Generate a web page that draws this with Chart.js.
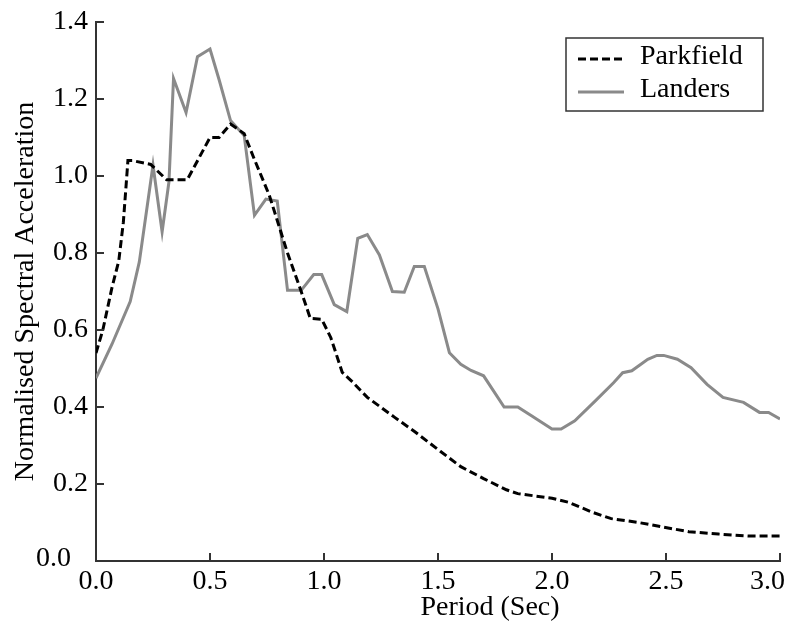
<!DOCTYPE html>
<html>
<head>
<meta charset="utf-8">
<script src="https://cdn.jsdelivr.net/npm/chart.js@4.4.1/dist/chart.umd.min.js"></script>
<style>
  html, body { margin: 0; padding: 0; background: #fff; }
  #wrap { width: 793px; height: 626px; }
</style>
</head>
<body>
<div id="wrap"><canvas id="spectraChart" width="793" height="626"></canvas></div>
<script>
// Period (s) and normalised spectral acceleration
const parkfieldPeriod = [0.00, 0.03, 0.07, 0.10, 0.12, 0.14, 0.16, 0.24, 0.31, 0.40, 0.50, 0.54, 0.59, 0.65, 0.69, 0.76,
    0.84, 0.90, 0.94, 0.99, 1.03, 1.08, 1.12, 1.19, 1.31, 1.40, 1.51, 1.60, 1.70, 1.80, 1.85, 2.00, 2.07, 2.18,
    2.26, 2.38, 2.48, 2.60, 2.73, 2.86, 3.00];
const parkfieldSA = [0.54, 0.60, 0.71, 0.78, 0.88, 1.04, 1.04, 1.03, 0.99, 0.99, 1.10, 1.10, 1.135, 1.11, 1.05, 0.95,
    0.80, 0.70, 0.63, 0.628, 0.58, 0.49, 0.468, 0.425, 0.373, 0.335, 0.285, 0.245, 0.214, 0.185, 0.175, 0.163, 0.153, 0.126,
    0.11, 0.10, 0.089, 0.076, 0.07, 0.065, 0.065];

const landersPeriod = [0.00, 0.07, 0.15, 0.19, 0.25, 0.29, 0.32, 0.34, 0.395, 0.445, 0.50, 0.54, 0.59, 0.65, 0.695,
    0.745, 0.795, 0.84, 0.90, 0.955, 0.99, 1.045, 1.10, 1.148, 1.19, 1.243, 1.30, 1.352, 1.396, 1.44, 1.50,
    1.55, 1.60, 1.645, 1.70, 1.79, 1.85, 1.91, 2.00, 2.04, 2.10, 2.19, 2.27, 2.31, 2.35, 2.42, 2.46, 2.49,
    2.55, 2.61, 2.68, 2.75, 2.84, 2.91, 2.95, 3.00];
const landersSA = [0.475, 0.563, 0.674, 0.777, 1.028, 0.855, 0.985, 1.253, 1.165, 1.31, 1.33, 1.25, 1.144, 1.105, 0.898,
    0.94, 0.935, 0.703, 0.703, 0.744, 0.744, 0.666, 0.648, 0.838, 0.848, 0.795, 0.70, 0.698, 0.765, 0.765, 0.655,
    0.541, 0.511, 0.495, 0.481, 0.40, 0.40, 0.377, 0.343, 0.343, 0.364, 0.416, 0.463, 0.489, 0.494, 0.524, 0.534, 0.534,
    0.524, 0.502, 0.459, 0.425, 0.412, 0.386, 0.386, 0.369];

const xTicks = [0.0, 0.5, 1.0, 1.5, 2.0, 2.5, 3.0];
const yTicks = [0.0, 0.2, 0.4, 0.6, 0.8, 1.0, 1.2, 1.4];

const FONT = '"Liberation Serif", "Times New Roman", serif';
const AXIS_COLOR = '#333';

function toPoints(xs, ys) {
    return xs.map((x, i) => ({ x: x, y: ys[i] }));
}

// inward tick marks, x labels, x title and the boxed legend
const axisDecor = {
    id: 'axisDecor',
    afterDraw(chart) {
        const { ctx, chartArea } = chart;
        const x = chart.scales.x, y = chart.scales.y;
        ctx.save();
        ctx.strokeStyle = AXIS_COLOR;
        ctx.lineWidth = 2;
        ctx.beginPath();
        x.ticks.forEach(t => {
            if (t.value === 0) return;
            const px = Math.round(x.getPixelForValue(t.value));
            ctx.moveTo(px, chartArea.bottom);
            ctx.lineTo(px, chartArea.bottom - 8);
        });
        y.ticks.forEach(t => {
            if (t.value === 0) return;
            const py = Math.round(y.getPixelForValue(t.value));
            ctx.moveTo(chartArea.left, py);
            ctx.lineTo(chartArea.left + 8, py);
        });
        ctx.stroke();

        ctx.fillStyle = '#000';
        ctx.font = '28px ' + FONT;
        ctx.textAlign = 'center';
        ctx.textBaseline = 'top';
        x.ticks.forEach(t => {
            const label = t.value.toFixed(1);
            const w = ctx.measureText(label).width;
            let px = x.getPixelForValue(t.value);
            px = Math.min(px, chart.width - 8 - w / 2);
            ctx.fillText(label, px, chartArea.bottom + 7);
        });

        // y "0.0" sits further left than the others
        ctx.textAlign = 'right';
        ctx.textBaseline = 'middle';
        ctx.fillText('0.0', chartArea.left - 25, y.getPixelForValue(0) - 2);

        ctx.textAlign = 'center';
        ctx.fillText('Period (Sec)', 490, chartArea.bottom + 47);

        // legend
        const boxR = chartArea.right - 17, boxT = chartArea.top + 16;
        const boxL = boxR - 197, boxH = 73;
        ctx.lineWidth = 1.5;
        ctx.strokeStyle = AXIS_COLOR;
        ctx.strokeRect(boxL, boxT, boxR - boxL, boxH);
        ctx.textAlign = 'left';
        chart.data.datasets.forEach((ds, i) => {
            const ly = boxT + 21 + i * 33;
            ctx.save();
            ctx.strokeStyle = ds.borderColor;
            ctx.lineWidth = ds.borderWidth;
            ctx.setLineDash(ds.borderDash || []);
            ctx.beginPath();
            ctx.moveTo(boxL + 12, ly);
            ctx.lineTo(boxL + 58, ly);
            ctx.stroke();
            ctx.restore();
            ctx.fillText(ds.label, boxL + 74, ly - 2);
        });
        ctx.restore();
    }
};

const ctx = document.getElementById('spectraChart').getContext('2d');
const spectraChart = new Chart(ctx, {
    type: 'scatter',
    data: {
        datasets: [{
            label: 'Parkfield',
            data: toPoints(parkfieldPeriod, parkfieldSA),
            showLine: true,
            borderColor: '#000',
            borderWidth: 3,
            borderDash: [8, 4],
            pointRadius: 0,
            tension: 0
        }, {
            label: 'Landers',
            data: toPoints(landersPeriod, landersSA),
            showLine: true,
            borderColor: '#8a8a8a',
            borderWidth: 3,
            pointRadius: 0,
            tension: 0
        }]
    },
    options: {
        responsive: false,
        animation: false,
        layout: { padding: { left: 12, right: 13, top: 19, bottom: 65 } },
        plugins: {
            legend: { display: false },
            tooltip: { enabled: false }
        },
        scales: {
            x: {
                type: 'linear',
                min: 0,
                max: 3,
                afterBuildTicks: scale => { scale.ticks = xTicks.map(v => ({ value: v })); },
                grid: { display: false, drawTicks: false },
                border: { display: true, color: AXIS_COLOR, width: 2 },
                ticks: { display: false }
            },
            y: {
                min: 0,
                max: 1.4,
                afterBuildTicks: scale => { scale.ticks = yTicks.map(v => ({ value: v })); },
                grid: { display: false, drawTicks: false },
                border: { display: true, color: AXIS_COLOR, width: 2 },
                ticks: {
                    color: '#000',
                    padding: 8,
                    font: { family: FONT, size: 28, lineHeight: 1 },
                    callback: v => (v === 0 ? '' : v.toFixed(1))
                },
                title: {
                    display: true,
                    text: 'Normalised Spectral Acceleration',
                    color: '#000',
                    font: { family: FONT, size: 28, lineHeight: 1 },
                    padding: { top: 0, bottom: 5 }
                }
            }
        }
    },
    plugins: [axisDecor]
});
</script>
</body>
</html>
